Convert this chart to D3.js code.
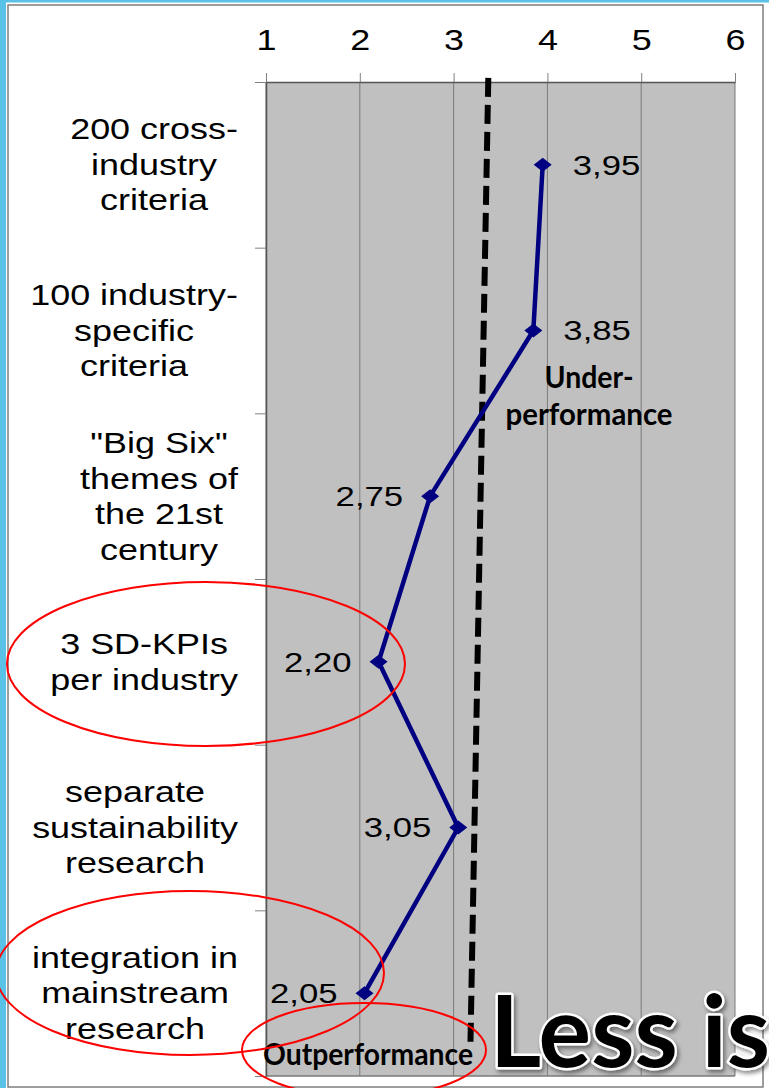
<!DOCTYPE html>
<html>
<head>
<meta charset="utf-8">
<script src="https://cdn.jsdelivr.net/npm/d3@7"></script>
<style>
    html, body {margin: 0; padding: 0; background: #fff;}
    svg {display: block;}
</style>
</head>
<body>
<svg id="chart" width="769" height="1088"></svg>
<script>
"use strict";

// rows of the chart, top to bottom, as wrapped in the original
const categories = [
    ["200 cross-", "industry", "criteria"],
    ["100 industry-", "specific", "criteria"],
    ["\"Big Six\"", "themes of", "the 21st", "century"],
    ["3 SD-KPIs", "per industry"],
    ["separate", "sustainability", "research"],
    ["integration in", "mainstream", "research"]
];
const scores = [3.95, 3.85, 2.75, 2.20, 3.05, 2.05];
const x_ticks = [1, 2, 3, 4, 5, 6];
// hand drawn cut-off line: value at the top end, value at the bottom end
const threshold = [3.37, 3.18];

const width = 769, height = 1088;
const plot = {left: 266, right: 735, top: 82, bottom: 1076};
const SX = 1.24;           // the chart picture was stretched sideways
const label_font = '"Liberation Sans", Arial, sans-serif';
const note_font = 'Lato, "Open Sans", sans-serif';

const names = categories.map(lines => lines.join(' '));
const data = names.map((name, i) => ({name: name, score: scores[i]}));
const comma = d3.formatLocale({decimal: ',', thousands: '.', grouping: [3], currency: ['', '']}).format('.2f');

const svg = d3.select('#chart');

const x = d3.scaleLinear().domain([1, 6]).range([plot.left, plot.right]);
const y = d3.scaleBand().domain(names).range([plot.top, plot.bottom]);
const rows = d3.scaleLinear().domain([0, names.length]).range([plot.top, plot.bottom]);
const cy = name => y(name) + y.bandwidth() / 2;

const defs = svg.append('defs');
defs.append('filter').attr('id', 'shadow')
    .attr('x', '-10%').attr('y', '-20%').attr('width', '130%').attr('height', '150%')
    .append('feDropShadow')
    .attr('dx', 2).attr('dy', 3).attr('stdDeviation', 2)
    .attr('flood-color', '#000').attr('flood-opacity', 0.45);

// slide frame
svg.append('rect').attr('x', 0).attr('y', 0).attr('width', 6).attr('height', height).attr('fill', '#5bc2e7');
svg.append('rect').attr('x', 0).attr('y', 0).attr('width', width).attr('height', 2.5).attr('fill', '#5bc2e7');
svg.append('rect')
    .attr('x', 8).attr('y', 5).attr('width', 755).attr('height', 1082)
    .attr('fill', 'none').attr('stroke', '#7f7f7f').attr('stroke-width', 1.5);

// plot area
svg.append('rect')
    .attr('x', plot.left).attr('y', plot.top)
    .attr('width', plot.right - plot.left).attr('height', plot.bottom - plot.top)
    .attr('fill', '#c0c0c0');

svg.append('g').selectAll('line')
    .data(x_ticks)
    .join('line')
    .attr('x1', d => x(d)).attr('x2', d => x(d))
    .attr('y1', plot.top).attr('y2', plot.bottom)
    .attr('stroke', '#7a7a7a').attr('stroke-width', 1);

svg.append('line')
    .attr('x1', plot.left).attr('x2', plot.right)
    .attr('y1', plot.bottom).attr('y2', plot.bottom)
    .attr('stroke', '#7a7a7a').attr('stroke-width', 1.5);

const xAxis = svg.append('g')
    .attr('transform', `translate(0,${plot.top})`)
    .call(d3.axisTop(x).tickValues(x_ticks).tickFormat(d3.format('d'))
        .tickSize(9).tickSizeOuter(0).tickPadding(23));
xAxis.select('.domain').attr('stroke', '#555').attr('stroke-width', 1.5);
xAxis.selectAll('.tick line').attr('stroke', '#808080');
xAxis.selectAll('.tick text')
    .attr('font-size', 29).attr('font-family', label_font).attr('fill', '#000')
    .attr('transform', `scale(${SX},1)`);

const yAxis = svg.append('g')
    .attr('transform', `translate(${plot.left},0)`)
    .call(d3.axisLeft(rows).ticks(names.length).tickFormat('').tickSize(11).tickSizeOuter(0));
yAxis.select('.domain').attr('stroke', '#555').attr('stroke-width', 1.5);
yAxis.selectAll('.tick line').attr('stroke', '#808080');

// category labels: lines centred on each other, the block right aligned
const label_right = 238, line_gap = 35.5;
categories.forEach((lines, i) => {
    const texts = svg.append('g').selectAll('text')
        .data(lines)
        .join('text')
        .attr('text-anchor', 'middle')
        .attr('dy', '0.35em')
        .attr('font-size', 29).attr('font-family', label_font).attr('fill', '#000')
        .text(d => d);
    const widest = d3.max(texts.nodes(), n => n.getComputedTextLength()) * SX;
    const cx = label_right - widest / 2;
    const mid = cy(names[i]);
    texts.attr('transform', (d, j) =>
        `translate(${cx},${mid + (j - (lines.length - 1) / 2) * line_gap}) scale(${SX},1)`);
});

// cut-off line
svg.append('line')
    .attr('x1', x(threshold[0])).attr('y1', rows(-0.025))
    .attr('x2', x(threshold[1])).attr('y2', rows(5.795))
    .attr('stroke', '#000').attr('stroke-width', 6)
    .attr('stroke-dasharray', '19 8');

// series
const line = d3.line().x(d => x(d.score)).y(d => cy(d.name));
svg.append('path')
    .datum(data)
    .attr('d', line)
    .attr('fill', 'none')
    .attr('stroke', '#000080').attr('stroke-width', 4.5)
    .attr('stroke-linejoin', 'round');

svg.append('g').selectAll('path')
    .data(data)
    .join('path')
    .attr('d', 'M0,-7L9,0L0,7L-9,0Z')
    .attr('transform', d => `translate(${x(d.score)},${cy(d.name)})`)
    .attr('fill', '#000080');

const cut = d3.mean(threshold);
svg.append('g').selectAll('text')
    .data(data)
    .join('text')
    .attr('text-anchor', d => d.score > cut ? 'start' : 'end')
    .attr('dy', '0.35em')
    .attr('transform', d => {
        const px = d.score > cut ? x(d.score) + 30 : x(d.score) - 27;
        return `translate(${px},${cy(d.name)}) scale(${SX},1)`;
    })
    .attr('font-size', 28).attr('font-family', label_font).attr('fill', '#000')
    .text(d => comma(d.score));

// notes on the slide
const note = (text, px, py, size, len, anchor) => svg.append('text')
    .attr('x', px).attr('y', py)
    .attr('text-anchor', anchor || 'start')
    .attr('font-family', note_font).attr('font-weight', 700)
    .attr('font-size', size).attr('fill', '#000')
    .attr('textLength', len).attr('lengthAdjust', 'spacingAndGlyphs')
    .text(text);

note('Under-', 589, 388, 30, 89, 'middle');
note('performance', 589, 425, 30, 167, 'middle');
note('Outperformance', 263, 1065, 30, 210);

const rings = [
    {cx: 206, cy: 664, rx: 199, ry: 82},
    {cx: 190, cy: 973, rx: 194, ry: 82},
    {cx: 364, cy: 1050, rx: 122, ry: 47}
];
svg.append('g').selectAll('ellipse')
    .data(rings)
    .join('ellipse')
    .attr('cx', d => d.cx).attr('cy', d => d.cy)
    .attr('rx', d => d.rx).attr('ry', d => d.ry)
    .attr('fill', 'none').attr('stroke', '#ff0000').attr('stroke-width', 2);

note('Less is', 490, 1067, 100, 280)
    .attr('stroke', '#fff').attr('stroke-width', 5)
    .attr('paint-order', 'stroke')
    .attr('stroke-linejoin', 'round')
    .attr('filter', 'url(#shadow)');
</script>
</body>
</html>
